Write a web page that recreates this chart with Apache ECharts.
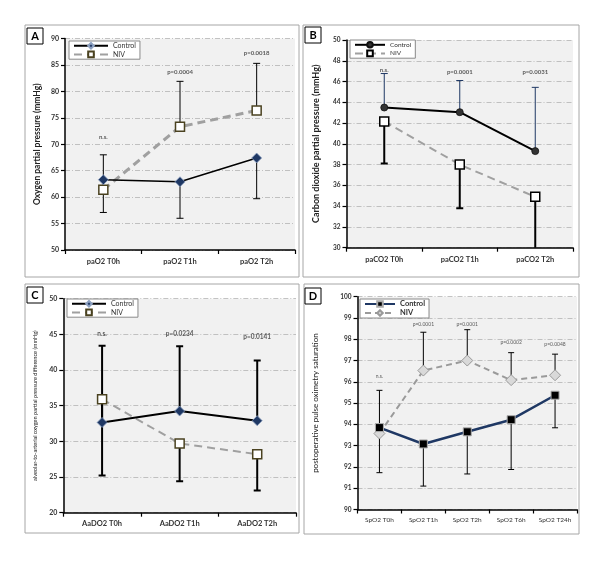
<!DOCTYPE html>
<html><head><meta charset="utf-8">
<script src="https://cdn.jsdelivr.net/npm/echarts@6/dist/echarts.min.js"></script>
<style>html,body{margin:0;padding:0;background:#fff}#c{width:600px;height:568px}</style>
</head><body><div id="c"></div>
<script>
// ---- Panel A : oxygen partial pressure ----
const catsA = ['paO2 T0h', 'paO2 T1h', 'paO2 T2h'];
const ctrlA = [63.3, 62.9, 67.4];
const ctrlEndA = [57.1, 56.0, 59.7];
const nivA = [61.4, 73.3, 76.4];
const nivEndA = [68.0, 81.9, 85.3];
const pTextA = ['n.s.', 'p=0.0004', 'p=0.0018'];
const pAtA = [71.3, 83.7, 87.2];
const ticksA = {min: 50, max: 90, interval: 5};

// ---- Panel B : carbon dioxide partial pressure ----
const catsB = ['paCO2 T0h', 'paCO2 T1h', 'paCO2 T2h'];
const ctrlB = [43.5, 43.05, 39.3];
const ctrlEndB = [46.77, 46.1, 45.44];
const nivB = [42.15, 38.0, 34.9];
const nivEndB = [38.1, 33.8, 29.0];
const pTextB = ['n.s.', 'p=0.0001', 'p=0.0031'];
const pAtB = [47.1, 46.9, 46.9];
const ticksB = {min: 30, max: 50, interval: 2};

// ---- Panel C : AaDO2 ----
const catsC = ['AaDO2 T0h', 'AaDO2 T1h', 'AaDO2 T2h'];
const ctrlC = [32.65, 34.25, 32.9];
const ctrlEndC = [43.4, 43.35, 41.35];
const nivC = [35.9, 29.7, 28.2];
const nivEndC = [25.2, 24.4, 23.1];
const pTextC = ['n.s.', 'p=0.0234', 'p=0.0141'];
const pAtC = [45.05, 45.05, 44.7];
const ticksC = {min: 20, max: 50, interval: 5};

// ---- Panel D : SpO2 ----
const catsD = ['SpO2 T0h', 'SpO2 T1h', 'SpO2 T2h', 'SpO2 T6h', 'SpO2 T24h'];
const ctrlD = [93.85, 93.08, 93.65, 94.22, 95.37];
const ctrlEndD = [91.73, 91.1, 91.67, 91.88, 93.84];
const nivD = [93.57, 96.53, 97.0, 96.08, 96.31];
const nivEndD = [95.6, 98.33, 98.45, 97.37, 97.3];
const pTextD = ['n.s.', 'p=0.0001', 'p=0.0001', 'p=0.0002', 'p=0.0048'];
const pAtD = [96.24, 98.7, 98.7, 97.84, 97.76];
const ticksD = {min: 90, max: 100, interval: 1};

const FONT = 'Lato';
const chart = echarts.init(document.getElementById('c'), null, {renderer: 'canvas'});

function grid(l, t, r, b) {
  return {left: l, top: t, width: r - l, height: b - t, show: true, backgroundColor: '#f1f1f1', borderWidth: 0};
}
function xAx(i, cats, fs, fw, margin) {
  return {type: 'category', gridIndex: i, data: cats, boundaryGap: true,
    axisLine: {lineStyle: {color: '#000', width: 1.5}},
    axisTick: {show: true, length: 4, lineStyle: {color: '#000', width: 1.2}},
    axisLabel: {interval: 0, fontSize: fs, fontWeight: fw, color: '#333', fontFamily: FONT, margin: margin}};
}
function yAx(i, t, name, nfs, nfw, gap, lfs) {
  return {type: 'value', gridIndex: i, min: t.min, max: t.max, interval: t.interval,
    name: name, nameLocation: 'middle', nameRotate: 90, nameGap: gap,
    nameTextStyle: {fontSize: nfs, fontWeight: nfw, color: '#222', fontFamily: FONT},
    axisLine: {show: true, lineStyle: {color: '#000', width: 1.5}},
    axisTick: {show: true, length: 4, lineStyle: {color: '#000', width: 1.2}},
    axisLabel: {fontSize: lfs, fontWeight: 'bold', color: '#333', fontFamily: FONT, margin: 6},
    splitLine: {show: true, lineStyle: {color: '#b4b4b4', width: 0.8, type: [5, 2, 1, 2]}}};
}
function errSeries(i, means, ends, color, width, cap) {
  return {type: 'custom', xAxisIndex: i, yAxisIndex: i, clip: true, z: 1, silent: true,
    data: means.map((m, k) => [k, m, ends[k]]),
    renderItem: function (params, api) {
      const p0 = api.coord([api.value(0), api.value(1)]);
      const p1 = api.coord([api.value(0), api.value(2)]);
      return {type: 'group', children: [
        {type: 'line', shape: {x1: p0[0], y1: p0[1], x2: p1[0], y2: p1[1]}, style: {stroke: color, lineWidth: width}},
        {type: 'line', shape: {x1: p1[0] - cap, y1: p1[1], x2: p1[0] + cap, y2: p1[1]}, style: {stroke: color, lineWidth: width}}
      ]};
    }};
}
function pSeries(i, texts, at, fs, fw) {
  return {type: 'scatter', xAxisIndex: i, yAxisIndex: i, silent: true, symbolSize: 1, z: 5,
    itemStyle: {color: 'rgba(0,0,0,0)'},
    data: at.map((v, k) => ({value: [k, v], name: texts[k]})),
    label: {show: true, position: 'inside', formatter: p => p.name, fontSize: fs, fontWeight: fw, color: '#333', fontFamily: FONT}};
}
function legend(l, t, names, iw, fs, fw) {
  return {left: l, top: t, orient: 'vertical', data: names, selectedMode: false,
    formatter: n => n.split(' ')[0], itemWidth: iw, itemHeight: 7, itemGap: 1,
    padding: [1, 4, 1, 4], backgroundColor: '#fff', borderColor: '#8a8a8a', borderWidth: 1,
    textStyle: {fontSize: fs, fontWeight: fw, color: '#333', fontFamily: FONT}};
}

const panels = [
  {x: 25, y: 25, w: 274, h: 252, L: 'A', lx: 27, ly: 28},
  {x: 303, y: 25, w: 276, h: 252, L: 'B', lx: 305, ly: 27},
  {x: 25, y: 284, w: 274, h: 249, L: 'C', lx: 27, ly: 287},
  {x: 304, y: 284, w: 275, h: 250, L: 'D', lx: 305, ly: 288}
];
const graphic = [];
panels.forEach(p => {
  graphic.push({type: 'rect', shape: {x: p.x, y: p.y, width: p.w, height: p.h}, style: {fill: 'none', stroke: '#a6a6a6', lineWidth: 1}, silent: true});
  graphic.push({type: 'rect', shape: {x: p.lx, y: p.ly, width: 16, height: 16}, style: {fill: '#fff', stroke: '#000', lineWidth: 1}, silent: true});
  graphic.push({type: 'text', x: p.lx + 8, y: p.ly + 8, style: {text: p.L, fontSize: 11, fontWeight: 'bold', fontFamily: FONT, fill: '#000', align: 'center', verticalAlign: 'middle'}, silent: true});
});

const option = {
  animation: false,
  backgroundColor: '#fff',
  graphic: graphic,
  grid: [grid(65, 38.5, 295, 250), grid(346.5, 40, 573, 247.7), grid(63.3, 298.7, 296, 512.7), grid(357.5, 296.7, 577, 509.5)],
  xAxis: [xAx(0, catsA, 7.5, 'bold', 8), xAx(1, catsB, 7.5, 'bold', 8), xAx(2, catsC, 7.5, 'bold', 7), xAx(3, catsD, 6.5, 'normal', 7)],
  yAxis: [
    yAx(0, ticksA, 'Oxygen partial pressure (mmHg)', 8.5, 'bold', 23, 7),
    yAx(1, ticksB, 'Carbon dioxide partial pressure (mmHg)', 9, 'bold', 25.5, 6.5),
    yAx(2, ticksC, 'alveolar-to-arterial oxygen partial pressure difference (mmHg)', 5.6, 'normal', 25.5, 7),
    yAx(3, ticksD, 'postoperative pulse oximetry saturation', 8, 'normal', 38.5, 6.5)
  ],
  legend: [
    legend(69, 41, ['Control A', 'NIV A'], 34, 7, 'normal'),
    legend(350, 40, ['Control B', 'NIV B'], 30, 6.5, 'normal'),
    legend(67, 299, ['Control C', 'NIV C'], 34, 7, 'normal'),
    legend(360, 299, ['Control D', 'NIV D'], 30, 7.5, 'bold')
  ],
  series: [
    // A
    errSeries(0, ctrlA, ctrlEndA, '#000', 1, 3.5),
    errSeries(0, nivA, nivEndA, '#000', 1, 3.5),
    {type: 'line', name: 'NIV A', xAxisIndex: 0, yAxisIndex: 0, data: nivA, z: 3,
      symbol: 'rect', symbolSize: 9, itemStyle: {color: '#fff', borderColor: '#4a4220', borderWidth: 1.5},
      lineStyle: {color: '#a0a0a0', width: 3, type: [8, 5]}},
    {type: 'line', name: 'Control A', xAxisIndex: 0, yAxisIndex: 0, data: ctrlA, z: 4,
      symbol: 'diamond', symbolSize: 10, itemStyle: {color: '#1f3864', borderColor: '#8ea2c2', borderWidth: 0.8},
      lineStyle: {color: '#000', width: 1.5}},
    pSeries(0, pTextA, pAtA, 6, 'bold'),
    // B
    errSeries(1, ctrlB, ctrlEndB, '#1f3864', 1, 3.5),
    errSeries(1, nivB, nivEndB, '#000', 2, 3.5),
    {type: 'line', name: 'NIV B', xAxisIndex: 1, yAxisIndex: 1, data: nivB, z: 3,
      symbol: 'rect', symbolSize: 9, itemStyle: {color: '#fff', borderColor: '#000', borderWidth: 1.5},
      lineStyle: {color: '#a0a0a0', width: 2, type: [8, 5]}},
    {type: 'line', name: 'Control B', xAxisIndex: 1, yAxisIndex: 1, data: ctrlB, z: 4,
      symbol: 'circle', symbolSize: 7, itemStyle: {color: '#333', borderColor: '#111', borderWidth: 0.8},
      lineStyle: {color: '#000', width: 2}},
    pSeries(1, pTextB, pAtB, 6, 'bold'),
    // C
    errSeries(2, ctrlC, ctrlEndC, '#000', 2, 3.5),
    errSeries(2, nivC, nivEndC, '#000', 2, 3.5),
    {type: 'line', name: 'NIV C', xAxisIndex: 2, yAxisIndex: 2, data: nivC, z: 3,
      symbol: 'rect', symbolSize: 9, itemStyle: {color: '#fff', borderColor: '#4a4220', borderWidth: 1.5},
      lineStyle: {color: '#a0a0a0', width: 2, type: [8, 5]}},
    {type: 'line', name: 'Control C', xAxisIndex: 2, yAxisIndex: 2, data: ctrlC, z: 4,
      symbol: 'diamond', symbolSize: 10, itemStyle: {color: '#1f3864', borderColor: '#8ea2c2', borderWidth: 0.8},
      lineStyle: {color: '#000', width: 2}},
    pSeries(2, pTextC, pAtC, 6.5, 'bold'),
    // D
    errSeries(3, ctrlD, ctrlEndD, '#000', 1, 3),
    errSeries(3, nivD, nivEndD, '#000', 1, 3),
    {type: 'line', name: 'NIV D', xAxisIndex: 3, yAxisIndex: 3, data: nivD, z: 3,
      symbol: 'diamond', symbolSize: 11, itemStyle: {color: '#d9d9d9', borderColor: '#999', borderWidth: 1},
      lineStyle: {color: '#9a9a9a', width: 2, type: [6, 4]}},
    {type: 'line', name: 'Control D', xAxisIndex: 3, yAxisIndex: 3, data: ctrlD, z: 4,
      symbol: 'rect', symbolSize: 8, itemStyle: {color: '#000', borderColor: '#aaa', borderWidth: 1},
      lineStyle: {color: '#1f3864', width: 2.5}},
    pSeries(3, pTextD, pAtD, 5, 'normal')
  ]
};
chart.setOption(option);
</script>
</body></html>
